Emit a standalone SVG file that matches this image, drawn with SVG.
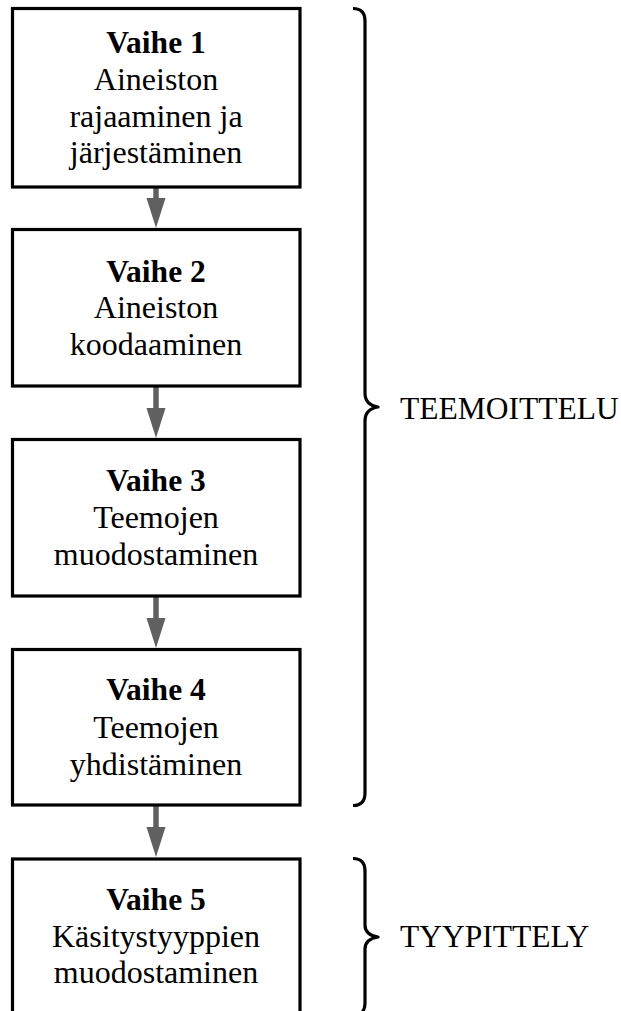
<svg xmlns="http://www.w3.org/2000/svg" width="621" height="1011" viewBox="0 0 621 1011">
<style>
.box{fill:#fff;stroke:#000;stroke-width:3.2}
.t{font-family:"Liberation Serif","Times New Roman",serif;font-size:32px;fill:#000;text-anchor:middle}
.b{font-weight:bold;font-size:31.5px}
.lbl{font-family:"Liberation Serif","Times New Roman",serif;font-size:31.5px;fill:#000}
.shaft{stroke:#606060;stroke-width:5.5;fill:none}
.head{fill:#606060}
.brace{fill:none;stroke:#000;stroke-width:3.2;stroke-linecap:butt;stroke-linejoin:round}
</style>
<rect width="621" height="1011" fill="#fff"/>
<g id="connectors">
<line class="shaft" x1="156" y1="188" x2="156" y2="200"/>
<polygon class="head" points="146.5,198 165.5,198 156,228"/>
<line class="shaft" x1="156" y1="386" x2="156" y2="410"/>
<polygon class="head" points="146.5,408 165.5,408 156,438"/>
<line class="shaft" x1="156" y1="596" x2="156" y2="620"/>
<polygon class="head" points="146.5,618 165.5,618 156,648"/>
<line class="shaft" x1="156" y1="805" x2="156" y2="829"/>
<polygon class="head" points="146.5,827 165.5,827 156,857"/>
</g>
<g id="step1">
<rect class="box" x="12.5" y="8.5" width="287.5" height="178.5"/>
<text class="t b" x="156" y="53">Vaihe 1</text>
<text class="t" x="156" y="90">Aineiston</text>
<text class="t" x="156" y="127">rajaaminen ja</text>
<text class="t" x="156" y="163">järjestäminen</text>
</g>
<g id="step2">
<rect class="box" x="12.5" y="229.5" width="287.5" height="156.5"/>
<text class="t b" x="156" y="282">Vaihe 2</text>
<text class="t" x="156" y="318">Aineiston</text>
<text class="t" x="156" y="355">koodaaminen</text>
</g>
<g id="step3">
<rect class="box" x="12.5" y="439.5" width="287.5" height="156.5"/>
<text class="t b" x="156" y="491">Vaihe 3</text>
<text class="t" x="156" y="528">Teemojen</text>
<text class="t" x="156" y="565">muodostaminen</text>
</g>
<g id="step4">
<rect class="box" x="12.5" y="649.5" width="287.5" height="155.5"/>
<text class="t b" x="156" y="700">Vaihe 4</text>
<text class="t" x="156" y="738">Teemojen</text>
<text class="t" x="156" y="775">yhdistäminen</text>
</g>
<g id="step5">
<rect class="box" x="12.5" y="859" width="287.5" height="160"/>
<text class="t b" x="156" y="910">Vaihe 5</text>
<text class="t" x="156" y="947">Käsitystyyppien</text>
<text class="t" x="156" y="983">muodostaminen</text>
</g>
<g id="teemoittelu">
<path class="brace" d="M353,8.5 Q365,8.5 365,21 L365,393 Q365,405 378,407 Q365,409 365,421 L365,793 Q365,805.5 353,805.5"/>
<text class="lbl" x="400" y="419">TEEMOITTELU</text>
</g>
<g id="tyypittely">
<path class="brace" d="M353,858.5 Q365,858.5 365,871 L365,925 Q365,935 378,937 Q365,939 365,949 L365,1003 Q365,1015.5 353,1015.5"/>
<text class="lbl" x="400" y="947">TYYPITTELY</text>
</g>
</svg>
